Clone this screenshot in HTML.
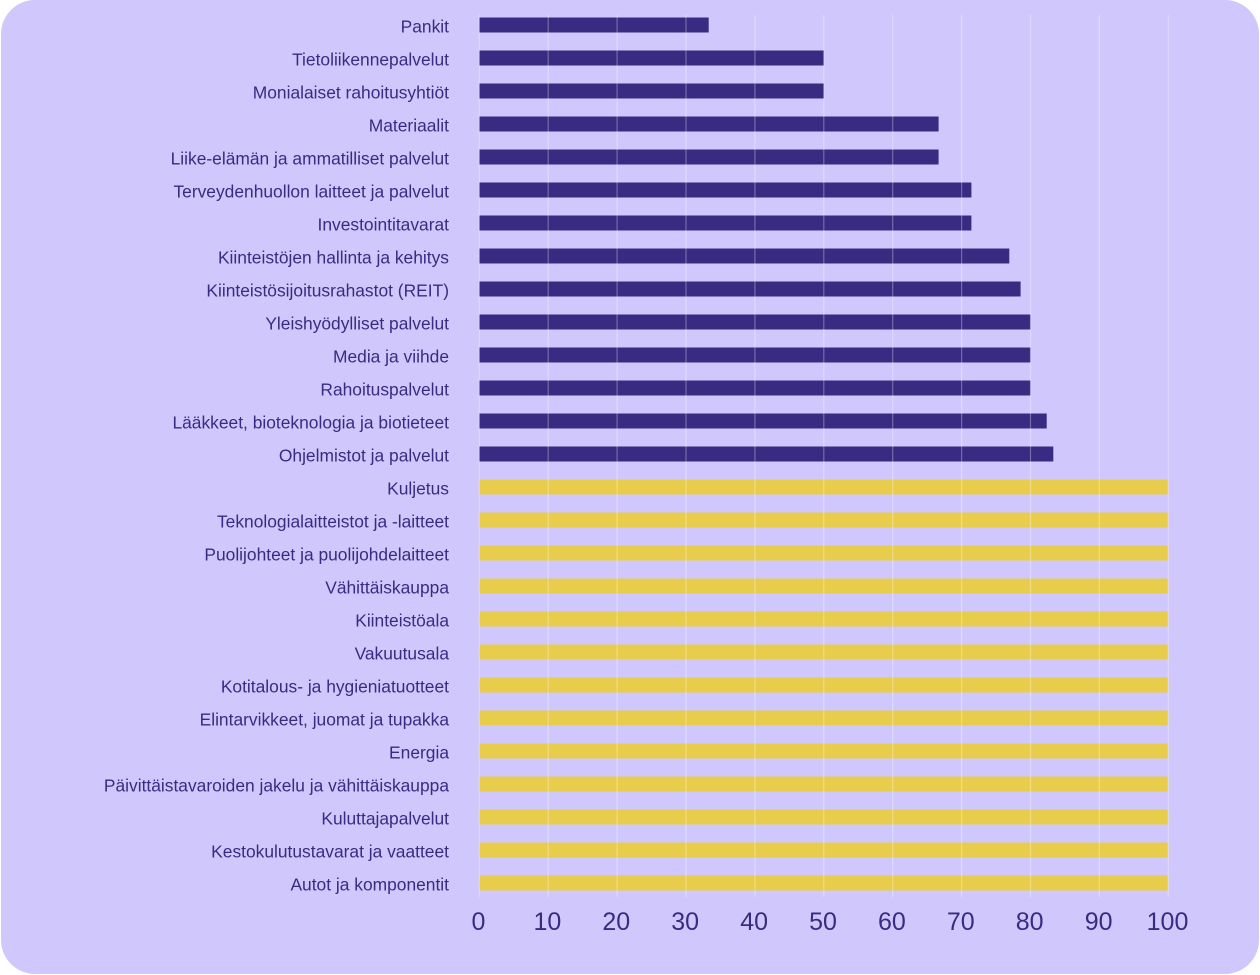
<!DOCTYPE html>
<html>
<head>
<meta charset="utf-8">
<style>
  html,body{margin:0;padding:0;background:#ffffff;}
  body{width:1260px;height:975px;overflow:hidden;position:relative;}
  .card{position:absolute;left:1px;top:0;width:1258px;height:974px;background:#d0c8fc;border-radius:34px;}
  svg{position:absolute;left:0;top:0;}
  text{font-family:"Liberation Sans",sans-serif;fill:#3a2b82;}
</style>
</head>
<body>
<div class="card"></div>
<svg width="1260" height="975" viewBox="0 0 1260 975" xmlns="http://www.w3.org/2000/svg">
  <g font-size="17.4" text-anchor="end" transform="translate(0,1)">
    <text x="449" y="31.5">Pankit</text>
    <text x="449" y="64.5">Tietoliikennepalvelut</text>
    <text x="449" y="97.5">Monialaiset rahoitusyhtiöt</text>
    <text x="449" y="130.5">Materiaalit</text>
    <text x="449" y="163.5">Liike-elämän ja ammatilliset palvelut</text>
    <text x="449" y="196.5">Terveydenhuollon laitteet ja palvelut</text>
    <text x="449" y="229.5">Investointitavarat</text>
    <text x="449" y="262.5">Kiinteistöjen hallinta ja kehitys</text>
    <text x="449" y="295.5">Kiinteistösijoitusrahastot (REIT)</text>
    <text x="449" y="328.5">Yleishyödylliset palvelut</text>
    <text x="449" y="361.5">Media ja viihde</text>
    <text x="449" y="394.5">Rahoituspalvelut</text>
    <text x="449" y="427.5">Lääkkeet, bioteknologia ja biotieteet</text>
    <text x="449" y="460.5">Ohjelmistot ja palvelut</text>
    <text x="449" y="493.5">Kuljetus</text>
    <text x="449" y="526.5">Teknologialaitteistot ja -laitteet</text>
    <text x="449" y="559.5">Puolijohteet ja puolijohdelaitteet</text>
    <text x="449" y="592.5">Vähittäiskauppa</text>
    <text x="449" y="625.5">Kiinteistöala</text>
    <text x="449" y="658.5">Vakuutusala</text>
    <text x="449" y="691.5">Kotitalous- ja hygieniatuotteet</text>
    <text x="449" y="724.5">Elintarvikkeet, juomat ja tupakka</text>
    <text x="449" y="757.5">Energia</text>
    <text x="449" y="790.5">Päivittäistavaroiden jakelu ja vähittäiskauppa</text>
    <text x="449" y="823.5">Kuluttajapalvelut</text>
    <text x="449" y="856.5">Kestokulutustavarat ja vaatteet</text>
    <text x="449" y="889.5">Autot ja komponentit</text>
  </g>
  <g fill="#3a2b82">
    <rect x="479.3" y="17.5" width="229.4" height="15"/>
    <rect x="479.3" y="50.5" width="344.5" height="15"/>
    <rect x="479.3" y="83.5" width="344.5" height="15"/>
    <rect x="479.3" y="116.5" width="459.3" height="15"/>
    <rect x="479.3" y="149.5" width="459.3" height="15"/>
    <rect x="479.3" y="182.5" width="492.1" height="15"/>
    <rect x="479.3" y="215.5" width="492.1" height="15"/>
    <rect x="479.3" y="248.5" width="530.0" height="15"/>
    <rect x="479.3" y="281.5" width="541.3" height="15"/>
    <rect x="479.3" y="314.5" width="551.2" height="15"/>
    <rect x="479.3" y="347.5" width="551.2" height="15"/>
    <rect x="479.3" y="380.5" width="551.2" height="15"/>
    <rect x="479.3" y="413.5" width="567.4" height="15"/>
    <rect x="479.3" y="446.5" width="574.0" height="15"/>
  </g>
  <g fill="#e8cd4c">
    <rect x="479.3" y="479.5" width="689" height="15"/>
    <rect x="479.3" y="512.5" width="689" height="15"/>
    <rect x="479.3" y="545.5" width="689" height="15"/>
    <rect x="479.3" y="578.5" width="689" height="15"/>
    <rect x="479.3" y="611.5" width="689" height="15"/>
    <rect x="479.3" y="644.5" width="689" height="15"/>
    <rect x="479.3" y="677.5" width="689" height="15"/>
    <rect x="479.3" y="710.5" width="689" height="15"/>
    <rect x="479.3" y="743.5" width="689" height="15"/>
    <rect x="479.3" y="776.5" width="689" height="15"/>
    <rect x="479.3" y="809.5" width="689" height="15"/>
    <rect x="479.3" y="842.5" width="689" height="15"/>
    <rect x="479.3" y="875.5" width="689" height="15"/>
  </g>
  <g stroke="#ffffff" stroke-opacity="0.3" stroke-width="1.2">
    <line x1="479.3" y1="15" x2="479.3" y2="897"/>
    <line x1="548.2" y1="15" x2="548.2" y2="897"/>
    <line x1="617.1" y1="15" x2="617.1" y2="897"/>
    <line x1="686.0" y1="15" x2="686.0" y2="897"/>
    <line x1="754.9" y1="15" x2="754.9" y2="897"/>
    <line x1="823.8" y1="15" x2="823.8" y2="897"/>
    <line x1="892.7" y1="15" x2="892.7" y2="897"/>
    <line x1="961.6" y1="15" x2="961.6" y2="897"/>
    <line x1="1030.5" y1="15" x2="1030.5" y2="897"/>
    <line x1="1099.4" y1="15" x2="1099.4" y2="897"/>
    <line x1="1168.3" y1="15" x2="1168.3" y2="897"/>
  </g>
  <g font-size="25" text-anchor="middle">
    <text x="478.5" y="930">0</text>
    <text x="547.4" y="930">10</text>
    <text x="616.3" y="930">20</text>
    <text x="685.2" y="930">30</text>
    <text x="754.1" y="930">40</text>
    <text x="823.0" y="930">50</text>
    <text x="891.9" y="930">60</text>
    <text x="960.8" y="930">70</text>
    <text x="1029.7" y="930">80</text>
    <text x="1098.6" y="930">90</text>
    <text x="1167.5" y="930">100</text>
  </g>
</svg>
</body>
</html>
